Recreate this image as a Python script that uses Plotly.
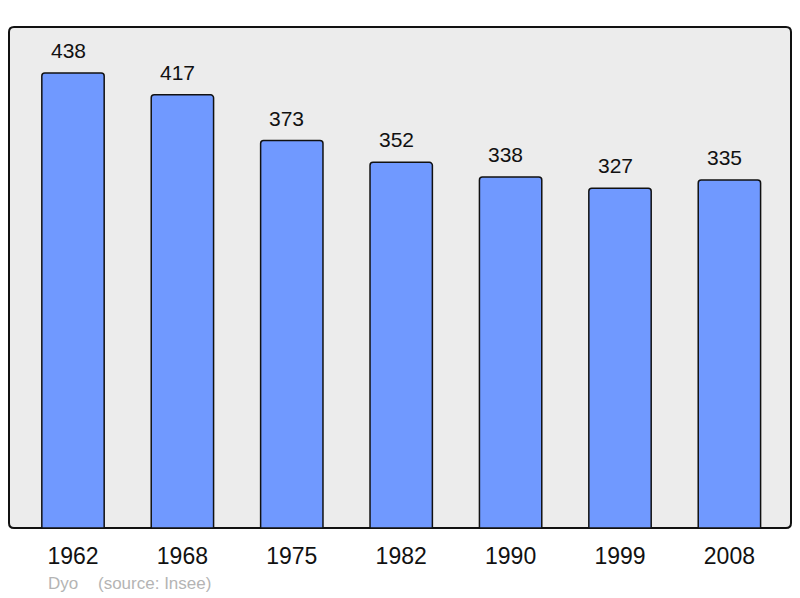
import plotly.graph_objects as go

years = ["1962", "1968", "1975", "1982", "1990", "1999", "2008"]
population = [438, 417, 373, 352, 338, 327, 335]
positions = list(range(len(years)))

# page body has an 8px margin; compensate so the figure fills 800x598
OFF = 8
W, H = 800 - OFF, 598 - OFF
ML, MR, MT, MB = 9 - OFF, 9, 27 - OFF, 70
pw, ph = W - ML - MR, H - MT - MB

fig = go.Figure()
fig.add_trace(go.Bar(
    x=positions, y=population, width=0.57,
    marker=dict(color="#7099ff", line=dict(color="#111111", width=1.5), cornerradius=3),
    hoverinfo="skip",
))

for xi, v in zip(positions, population):
    fig.add_annotation(x=xi, y=v, text=str(v), showarrow=False, yanchor="bottom",
                       yshift=9, xshift=-5,
                       font=dict(size=21, color="#111111", family="Liberation Sans"))

# rounded frame
r = 5
rx, ry = r / pw, r / ph
path = (f"M {rx},0 L {1-rx},0 Q 1,0 1,{ry} L 1,{1-ry} Q 1,1 {1-rx},1 "
        f"L {rx},1 Q 0,1 0,{1-ry} L 0,{ry} Q 0,0 {rx},0 Z")
fig.add_shape(type="path", path=path, xref="paper", yref="paper",
              fillcolor="#ececec", line=dict(color="#111111", width=2), layer="below")


def px_x(x):
    return (x - OFF - ML) / pw


def px_y(y):
    return (H + OFF - MB - y) / ph


for txt, x in [("Dyo", 48), ("(source: Insee)", 98)]:
    fig.add_annotation(x=px_x(x), y=px_y(583), xref="paper", yref="paper", text=txt,
                       showarrow=False, xanchor="left", yanchor="middle",
                       xshift=-2,
                       font=dict(size=17, color="#b4b4b4", family="Liberation Sans"))

fig.update_layout(
    width=W, height=H,
    margin=dict(l=ML, r=MR, t=MT, b=MB),
    paper_bgcolor="white", plot_bgcolor="rgba(0,0,0,0)",
    showlegend=False,
    xaxis=dict(range=[-0.585, 6.563], tickvals=positions, ticktext=years,
               showgrid=False, zeroline=False, showline=False, ticks="",
               ticklabelstandoff=12,
               tickfont=dict(size=23, color="#111111", family="Liberation Sans"),
               fixedrange=True),
    yaxis=dict(range=[0, 482.3], showgrid=False, zeroline=False, showline=False,
               showticklabels=False, fixedrange=True),
)

fig.write_html("out.html")
